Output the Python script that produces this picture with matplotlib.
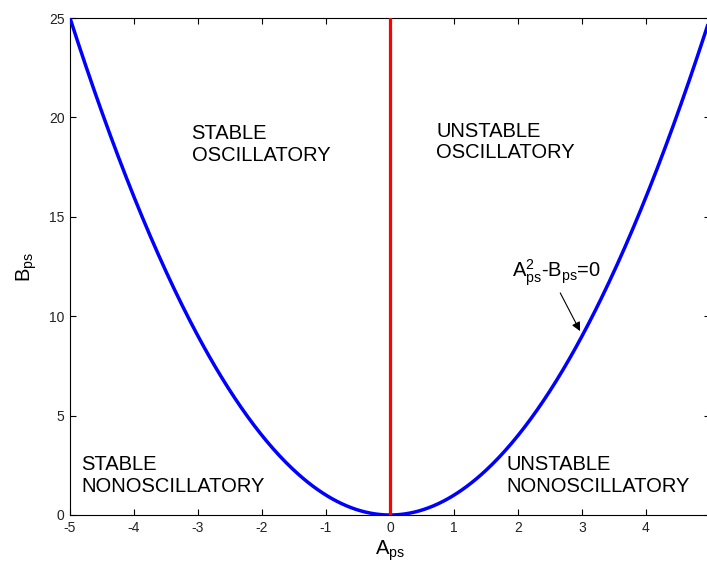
import numpy as np
import matplotlib
matplotlib.use("Agg")
import matplotlib.pyplot as plt

plt.rcParams['font.family'] = ['Liberation Sans', 'DejaVu Sans']
plt.rcParams['mathtext.fontset'] = 'custom'
plt.rcParams['mathtext.rm'] = 'Liberation Sans'
plt.rcParams['mathtext.it'] = 'Liberation Sans'

# Data
a_values = np.linspace(-5, 5, 401)
b_values = a_values ** 2          # boundary A^2 - B = 0
red_x = [0, 0]
red_y = [0, 25]
x_ticks = [-5, -4, -3, -2, -1, 0, 1, 2, 3, 4, 5]
y_ticks = [0, 5, 10, 15, 20, 25]
region_labels = ["STABLE\nOSCILLATORY", "UNSTABLE\nOSCILLATORY",
                 "STABLE\nNONOSCILLATORY", "UNSTABLE\nNONOSCILLATORY"]
region_pos = [(-3.10, 18.64), (0.72, 18.76), (-4.82, 1.99), (1.82, 1.99)]
annot_text_pos = (1.9, 11.97)
arrow_start = (2.66, 11.17)
arrow_tip = (2.97, 9.25)

fig = plt.figure(figsize=(7.07, 5.66), dpi=100)
ax = fig.add_axes([70/707, 51/566, 640/707, 497/566])

ax.plot(a_values, b_values, color='#0000ff', lw=2.5, solid_capstyle='butt', zorder=3)
ax.plot(red_x, red_y, color='#ff0000', lw=2.3, zorder=4)

ax.set_xlim(-5, 5)
ax.set_ylim(0, 25)
ax.set_xticks(x_ticks)
ax.set_yticks(y_ticks)
ax.set_xticklabels([str(t) for t in x_ticks])
ax.set_yticklabels([str(t) for t in y_ticks])
ax.tick_params(direction='in', length=4.3, width=0.8, top=True, right=True,
               labelsize=10, labelcolor='#222222', pad=4)
for s in ax.spines.values():
    s.set_linewidth(0.8)

for lab, (x, y) in zip(region_labels, region_pos):
    ax.text(x, y, lab, fontsize=14.5, va='center', ha='left', linespacing=1.15, zorder=5)

ax.text(annot_text_pos[0], annot_text_pos[1], r'A$_{ps}^2$-B$_{ps}$=0',
        fontsize=14.5, ha='left', va='baseline', zorder=6)
ax.annotate('', xy=arrow_tip, xytext=arrow_start,
            arrowprops=dict(arrowstyle='-|>', color='black', lw=0.8,
                            mutation_scale=13, shrinkA=0, shrinkB=0),
            zorder=6)

ax.set_xlabel(r'A$_{ps}$', fontsize=14.5, labelpad=3)
ax.set_ylabel(r'B$_{ps}$', fontsize=14.5, labelpad=7)

fig.savefig('out.png', dpi=100)
